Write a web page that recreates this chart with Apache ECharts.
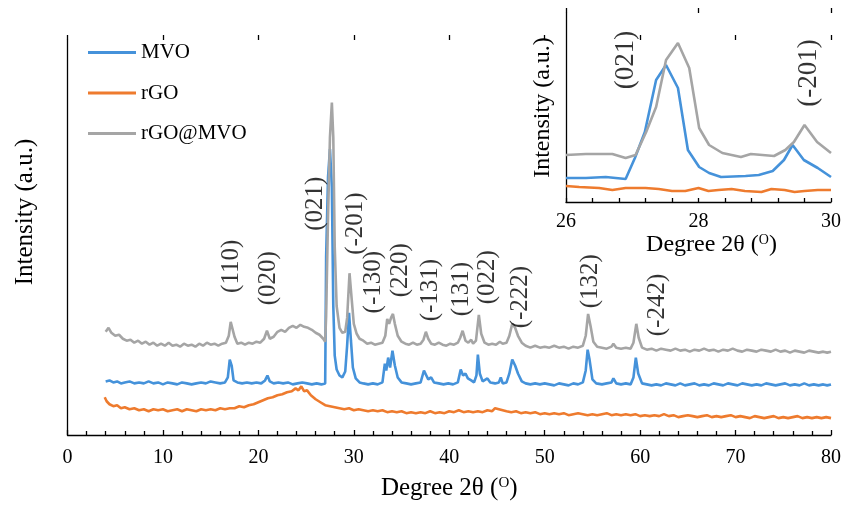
<!DOCTYPE html>
<html>
<head>
<meta charset="utf-8">
<script src="https://cdn.jsdelivr.net/npm/echarts@6/dist/echarts.min.js"></script>
<style>html,body{margin:0;padding:0;background:#fff}#c{width:844px;height:506px}</style>
</head>
<body>
<div id="c"></div>
<script>
// ---------- data (main pattern: [2theta, intensity a.u.]) ----------
const mvo = [[4.0,54],[4.4,55],[4.8,53],[5.2,54],[5.6,52],[6.0,53],[6.5,54],[7.0,52],[7.5,53],[8.0,52],[8.5,54],[9.0,52],[9.5,53],[10.0,51],[10.5,53],[11.0,52],[11.5,51],[12.0,53],[12.5,52],[13.0,51],[13.5,52],[14.0,53],[14.5,52],[15.0,54],[15.5,53],[16.0,52],[16.5,53],[16.8,58],[17.0,76],[17.2,70],[17.4,55],[17.8,53],[18.3,52],[18.8,53],[19.3,52],[19.8,53],[20.3,52],[20.7,55],[20.95,60],[21.2,54],[21.6,52],[22.1,53],[22.6,52],[23.1,53],[23.6,51],[24.1,52],[24.6,53],[25.1,52],[25.6,51],[26.1,52],[26.6,51],[27.0,52],[27.1,180],[27.3,260],[27.5,288],[27.7,250],[27.85,130],[28.0,80],[28.2,66],[28.5,60],[28.8,58],[29.1,64],[29.3,90],[29.5,123],[29.7,95],[29.9,68],[30.2,57],[30.6,53],[31.0,52],[31.5,51],[32.0,52],[32.5,51],[33.0,53],[33.25,72],[33.4,65],[33.6,78],[33.8,68],[34.05,85],[34.3,70],[34.6,58],[35.0,53],[35.5,52],[36.0,51],[36.5,52],[37.0,53],[37.35,65],[37.6,60],[37.8,56],[38.1,58],[38.4,53],[38.9,52],[39.4,51],[39.9,52],[40.4,51],[40.9,53],[41.2,66],[41.45,60],[41.7,62],[41.95,57],[42.3,55],[42.6,53],[42.85,60],[43.0,81],[43.2,62],[43.5,54],[44.0,57],[44.3,53],[44.8,52],[45.2,53],[45.4,58],[45.6,52],[46.0,53],[46.3,62],[46.6,76],[46.9,70],[47.2,62],[47.6,54],[48.0,52],[48.5,51],[49.0,52],[49.5,51],[50.0,52],[50.5,51],[51.0,50],[51.5,52],[52.0,51],[52.5,50],[53.0,52],[53.5,51],[54.0,53],[54.3,65],[54.5,86],[54.7,76],[55.0,56],[55.4,52],[56.0,51],[56.5,52],[57.0,53],[57.2,57],[57.5,52],[58.0,51],[58.5,52],[59.0,51],[59.3,58],[59.55,78],[59.8,62],[60.2,52],[60.7,51],[61.2,50],[61.7,51],[62.2,50],[62.7,52],[63.2,51],[63.7,50],[64.2,52],[64.7,50],[65.2,51],[65.7,52],[66.2,50],[66.7,51],[67.2,50],[67.7,52],[68.2,51],[68.7,50],[69.2,52],[69.7,51],[70.2,50],[70.7,52],[71.2,51],[71.7,50],[72.2,51],[72.7,50],[73.2,52],[73.7,51],[74.2,50],[74.7,51],[75.2,52],[75.7,50],[76.2,51],[76.7,50],[77.2,52],[77.7,50],[78.2,51],[78.7,50],[79.2,51],[79.6,50],[80.0,51]];

const rgo = [[3.9,38],[4.1,34],[4.4,31],[4.8,29],[5.2,30],[5.6,27],[6.0,28],[6.5,26],[7.0,27],[7.5,25],[8.0,26],[8.5,24],[9.0,26],[9.5,25],[10.0,26],[10.5,24],[11.0,25],[11.5,26],[12.0,24],[12.5,26],[13.0,25],[13.5,24],[14.0,26],[14.5,25],[15.0,26],[15.5,25],[16.0,27],[16.5,26],[17.0,27],[17.5,27],[18.0,29],[18.5,28],[19.0,30],[19.5,31],[20.0,33],[20.5,35],[21.0,37],[21.5,38],[22.0,40],[22.5,41],[23.0,43],[23.5,44],[23.9,47],[24.2,45],[24.5,49],[24.8,44],[25.1,45],[25.5,40],[26.0,36],[26.5,33],[27.0,30],[27.5,29],[28.0,28],[28.5,27],[29.0,26],[29.5,27],[30.0,25],[30.5,26],[31.0,25],[31.5,24],[32.0,25],[32.5,24],[33.0,25],[33.5,23],[34.0,24],[34.5,23],[35.0,24],[35.5,22],[36.0,23],[36.5,22],[37.0,23],[37.5,22],[38.0,24],[38.5,22],[39.0,23],[39.5,22],[40.0,24],[40.5,23],[41.0,25],[41.5,23],[42.0,24],[42.5,23],[43.0,24],[43.5,23],[44.0,25],[44.5,24],[44.8,27],[45.2,26],[45.6,25],[46.0,24],[46.5,23],[47.0,24],[47.5,22],[48.0,23],[48.5,22],[49.0,23],[49.5,21],[50.0,22],[50.5,21],[51.0,22],[51.5,21],[52.0,22],[52.5,20],[53.0,21],[53.5,22],[54.0,21],[54.5,20],[55.0,21],[55.5,20],[56.0,21],[56.5,22],[57.0,20],[57.5,21],[58.0,20],[58.5,21],[59.0,20],[59.5,21],[60.0,19],[60.5,20],[61.0,19],[61.5,20],[62.0,19],[62.5,21],[63.0,19],[63.5,20],[64.0,18],[64.5,19],[65.0,20],[65.5,19],[66.0,18],[66.5,19],[67.0,20],[67.5,18],[68.0,19],[68.5,18],[69.0,19],[69.5,20],[70.0,18],[70.5,19],[71.0,18],[71.5,17],[72.0,19],[72.5,18],[73.0,17],[73.5,18],[74.0,19],[74.5,17],[75.0,18],[75.5,17],[76.0,18],[76.5,19],[77.0,17],[77.5,18],[78.0,17],[78.5,18],[79.0,17],[79.5,18],[80.0,17]];

const rgoMvo = [[4.0,104],[4.3,108],[4.6,103],[5.0,100],[5.4,101],[5.8,97],[6.2,95],[6.6,96],[7.0,93],[7.4,95],[7.8,92],[8.2,94],[8.6,91],[9.0,93],[9.4,90],[9.8,92],[10.2,90],[10.6,93],[11.0,90],[11.4,91],[11.8,89],[12.2,92],[12.6,90],[13.0,91],[13.4,89],[13.8,92],[14.2,90],[14.6,93],[15.0,91],[15.4,92],[15.8,90],[16.2,92],[16.6,93],[16.9,100],[17.1,114],[17.3,113],[17.5,99],[17.8,92],[18.2,93],[18.6,91],[19.0,93],[19.4,92],[19.8,94],[20.2,93],[20.6,97],[20.9,105],[21.2,97],[21.6,99],[22.0,104],[22.4,106],[22.8,104],[23.2,108],[23.6,110],[24.0,108],[24.4,111],[24.8,109],[25.2,108],[25.6,106],[26.0,103],[26.4,101],[26.8,97],[27.0,94],[27.1,120],[27.3,220],[27.5,300],[27.7,335],[27.85,300],[28.0,190],[28.2,130],[28.5,108],[28.8,103],[29.1,104],[29.3,118],[29.55,163],[29.75,140],[30.0,112],[30.3,102],[30.6,97],[31.0,95],[31.4,92],[31.8,93],[32.2,91],[32.6,92],[33.0,93],[33.3,100],[33.5,117],[33.7,112],[33.9,118],[34.1,122],[34.3,112],[34.6,100],[35.0,94],[35.4,92],[35.8,91],[36.2,93],[36.6,91],[37.0,92],[37.3,96],[37.55,104],[37.8,97],[38.1,92],[38.5,91],[38.9,93],[39.3,91],[39.7,90],[40.1,92],[40.5,91],[40.9,93],[41.15,98],[41.4,105],[41.7,95],[42.0,93],[42.3,96],[42.5,92],[42.8,95],[43.1,121],[43.35,102],[43.7,93],[44.1,91],[44.5,92],[44.9,91],[45.3,94],[45.6,92],[46.0,93],[46.3,100],[46.6,112],[46.9,108],[47.2,100],[47.6,93],[48.0,90],[48.5,88],[49.0,90],[49.5,88],[50.0,89],[50.5,88],[51.0,90],[51.5,88],[52.0,89],[52.5,87],[53.0,89],[53.5,88],[54.0,90],[54.3,100],[54.55,122],[54.8,110],[55.1,94],[55.5,89],[56.0,88],[56.5,87],[57.0,89],[57.2,92],[57.5,88],[58.0,87],[58.5,88],[59.0,87],[59.3,93],[59.6,112],[59.85,98],[60.2,88],[60.7,86],[61.2,87],[61.7,85],[62.2,87],[62.7,86],[63.2,85],[63.7,87],[64.2,85],[64.7,86],[65.2,84],[65.7,86],[66.2,85],[66.7,87],[67.2,85],[67.7,86],[68.2,84],[68.7,86],[69.2,85],[69.7,87],[70.2,85],[70.7,84],[71.2,86],[71.7,85],[72.2,84],[72.7,86],[73.2,85],[73.7,84],[74.2,86],[74.7,84],[75.2,85],[75.7,83],[76.2,85],[76.7,84],[77.2,83],[77.7,85],[78.2,84],[78.7,83],[79.2,84],[79.6,83],[80.0,84]];

// ---------- inset data (zoom 26-30 deg) ----------
const insetMvo = [[26.0,24],[26.3,24],[26.6,25],[26.9,23],[27.04,44],[27.19,70],[27.36,122],[27.51,137],[27.69,114],[27.84,52],[28.01,35],[28.16,29],[28.34,25],[28.71,26],[28.91,27],[29.12,31],[29.29,42],[29.42,57],[29.59,42],[29.8,34],[30.0,25]];
const insetRgo = [[26.0,16],[26.2,15],[26.5,14],[26.7,12],[26.9,14],[27.2,14],[27.4,13],[27.6,11],[27.8,11],[28.0,14],[28.15,11],[28.3,12],[28.5,13],[28.7,11],[28.95,10],[29.1,13],[29.3,12],[29.45,10],[29.6,11],[29.8,12],[30.0,12]];
const insetRgoMvo = [[26.0,47],[26.3,48],[26.7,48],[26.9,44],[27.05,47],[27.21,70],[27.36,95],[27.51,142],[27.69,159],[27.86,134],[28.01,74],[28.16,57],[28.36,49],[28.64,45],[28.79,48],[29.14,46],[29.31,52],[29.44,60],[29.6,77],[29.79,60],[30.0,49]];

// ---------- peak annotations: [label, 2theta, label height] ----------
const peakNames   = ['(110)','(020)','(021)','(-201)','(-130)','(220)','(-131)','(131)','(022)','(-222)','(132)','(-242)'];
const peakAngles  = [17.2, 21.1, 26.0, 30.2, 32.1, 34.9, 38.0, 41.3, 44.0, 47.5, 54.8, 61.8];
const peakHeights = [170, 158, 233, 213, 154, 166, 146, 147, 159, 139, 155, 131];
const insetPeakNames   = ['(021)','(-201)'];
const insetPeakAngles  = [26.91, 29.66];
const insetPeakHeights = [142, 129];

const seriesNames = ['MVO','rGO','rGO@MVO'];
const xTicksMain = [0, 80, 10];
const xTicksInset = [26, 30, 2];

// ---------- chart ----------
const FONT = "'Liberation Serif','Times New Roman',serif";
const COLORS = {'MVO':'#4592DA','rGO':'#EE7B2E','rGO@MVO':'#A5A5A5'};
const chart = echarts.init(document.getElementById('c'), null, {renderer:'canvas'});

function lineSeries(name, data, xi, lw){
  return {name, type:'line', data, xAxisIndex:xi, yAxisIndex:xi, showSymbol:false, symbol:'none',
    lineStyle:{color:COLORS[name], width:lw}, itemStyle:{color:COLORS[name]}, silent:true, animation:false};
}
function labelSeries(names, xs, ys, xi, fs){
  return {type:'scatter', xAxisIndex:xi, yAxisIndex:xi, symbolSize:0, silent:true, z:5,
    data: names.map((n,i)=>({name:n, value:[xs[i], ys[i]]})),
    label:{show:true, position:'inside', rotate:90, formatter:'{b}', color:'#000', fontFamily:FONT, fontSize:fs}};
}
const axisLine = {show:true, lineStyle:{color:'#000', width:1.3}};

const option = {
  backgroundColor:'#fff',
  animation:false,
  grid:[
    {left:67.5, right:10.5, top:40, bottom:68},
    {left:566, right:11, top:13, bottom:304}
  ],
  legend:{
    data:seriesNames, orient:'vertical', left:88, top:42, padding:0, itemWidth:48, itemHeight:3, itemGap:19.5,
    icon:'rect', textStyle:{fontFamily:FONT, fontSize:21, color:'#000', lineHeight:21}
  },
  xAxis:[
    {gridIndex:0, type:'value', min:xTicksMain[0], max:xTicksMain[1], interval:xTicksMain[2],
     axisLine, splitLine:{show:false},
     axisTick:{inside:true, length:5, lineStyle:{color:'#000', width:1.3}},
     minorTick:{show:true, splitNumber:5, length:4, lineStyle:{color:'#000', width:1.3}},
     axisLabel:{margin:13, fontFamily:FONT, fontSize:20, color:'#000'},
     name:'Degree 2θ ({s|O})', nameLocation:'middle', nameGap:41,
     nameTextStyle:{fontFamily:FONT, fontSize:25, color:'#000', rich:{s:{fontFamily:FONT, fontSize:15, color:'#000', verticalAlign:'top', padding:[0,0,8,0]}}}},
    {gridIndex:1, type:'value', min:xTicksInset[0], max:xTicksInset[1], interval:xTicksInset[2],
     axisLine, splitLine:{show:false},
     axisTick:{inside:true, length:4, lineStyle:{color:'#000', width:1.3}},
     minorTick:{show:true, splitNumber:5, length:4, lineStyle:{color:'#000', width:1.3}},
     axisLabel:{margin:10, fontFamily:FONT, fontSize:20, color:'#000'},
     name:'Degree 2θ ({s|O})', nameLocation:'middle', nameGap:25,
     nameTextStyle:{fontFamily:FONT, fontSize:24, color:'#000', padding:[0,0,0,26], rich:{s:{fontFamily:FONT, fontSize:14, color:'#000', verticalAlign:'top', padding:[0,0,8,0]}}}},
    {gridIndex:0, type:'value', min:xTicksMain[0], max:xTicksMain[1], interval:xTicksMain[2],
     axisLine:{show:false}, splitLine:{show:false}, axisLabel:{show:false},
     axisTick:{inside:false, length:5, lineStyle:{color:'#000', width:1.3}}},
    {gridIndex:1, type:'value', min:xTicksInset[0], max:xTicksInset[1], interval:xTicksInset[2],
     axisLine:{show:false}, splitLine:{show:false}, axisLabel:{show:false},
     axisTick:{inside:false, length:5, lineStyle:{color:'#000', width:1.3}}}
  ],
  yAxis:[
    {gridIndex:0, type:'value', min:0, max:398, axisLine, axisTick:{show:false}, axisLabel:{show:false}, splitLine:{show:false}},
    {gridIndex:1, type:'value', min:0, max:189, axisLine, axisTick:{show:false}, axisLabel:{show:false}, splitLine:{show:false},
     name:'Intensity (a.u.)', nameLocation:'middle', nameGap:11,
     nameTextStyle:{fontFamily:FONT, fontSize:24, color:'#000'}}
  ],
  graphic:[
    {type:'text', x:25, y:212, rotation:Math.PI/2,
     style:{text:'Intensity (a.u.)', fontFamily:FONT, fontSize:25, fill:'#000', align:'center', verticalAlign:'middle'}}
  ],
  series:[
    lineSeries('MVO', mvo, 0, 2.6),
    lineSeries('rGO', rgo, 0, 2.6),
    lineSeries('rGO@MVO', rgoMvo, 0, 2.6),
    lineSeries('MVO', insetMvo, 1, 2.6),
    lineSeries('rGO', insetRgo, 1, 2.6),
    lineSeries('rGO@MVO', insetRgoMvo, 1, 2.6),
    labelSeries(peakNames, peakAngles, peakHeights, 0, 25),
    labelSeries(insetPeakNames, insetPeakAngles, insetPeakHeights, 1, 27)
  ]
};
chart.setOption(option);
</script>
</body>
</html>
